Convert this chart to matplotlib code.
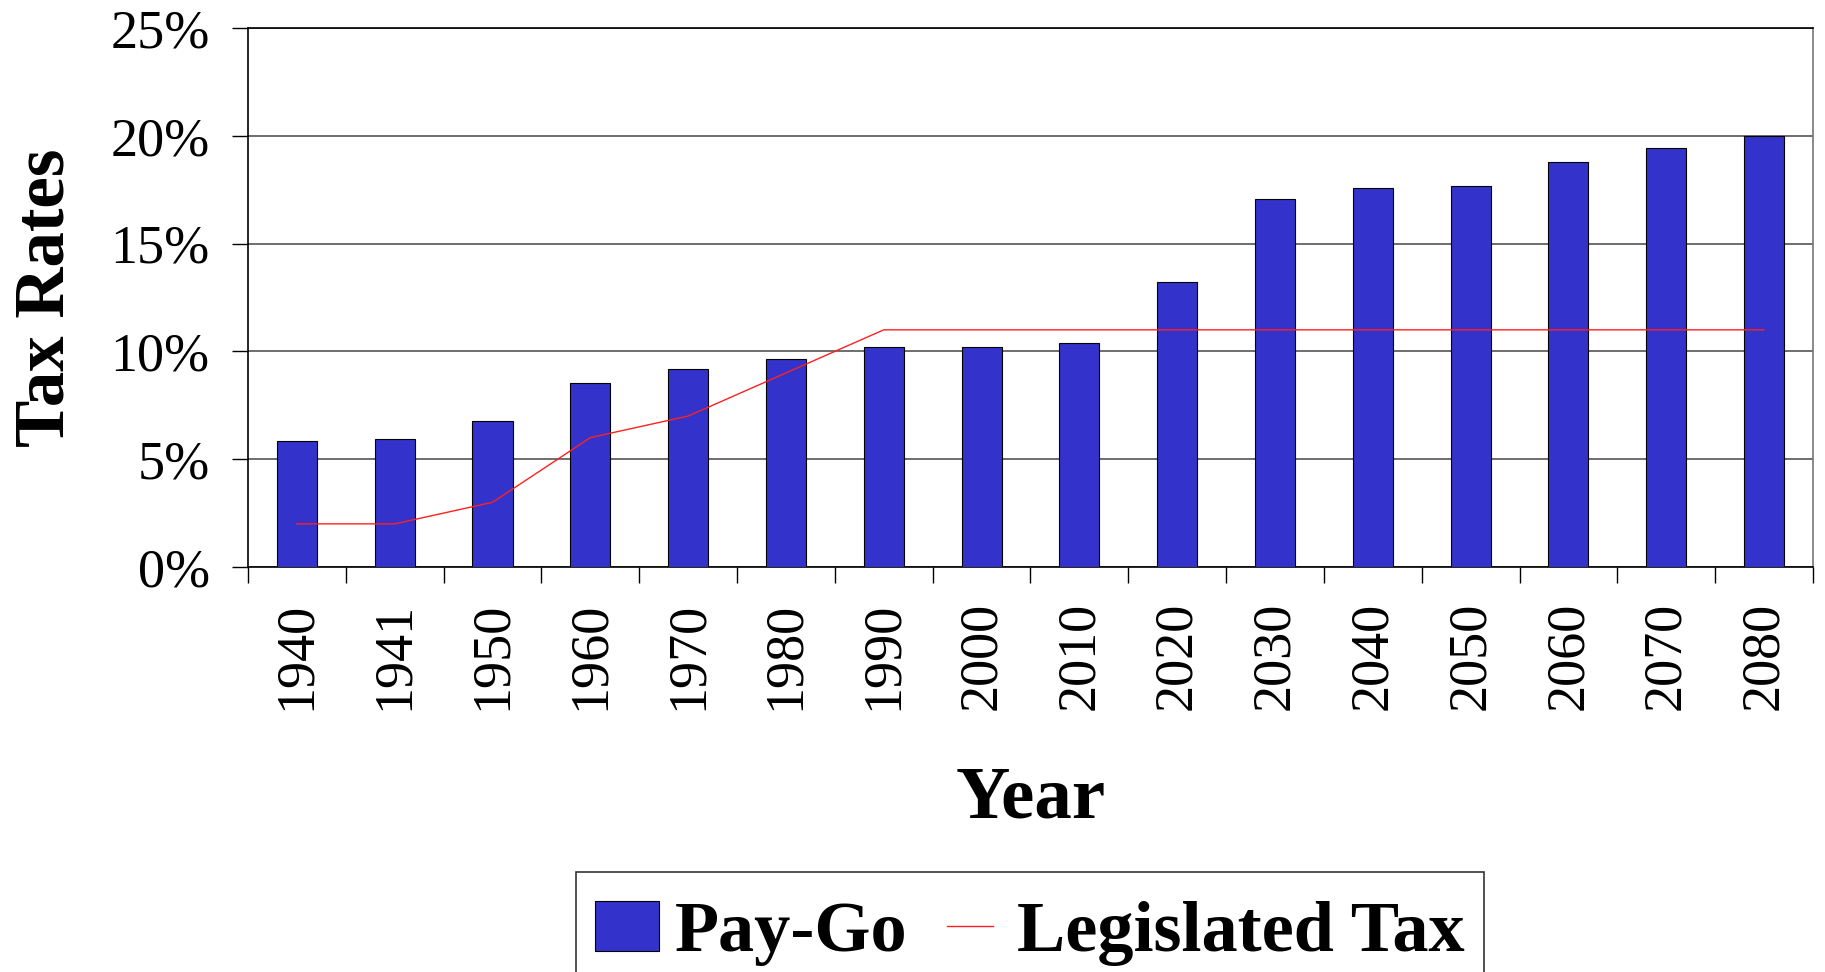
import matplotlib
matplotlib.use("Agg")
import matplotlib.pyplot as plt
from matplotlib.ticker import FixedLocator, FuncFormatter, NullFormatter
from matplotlib.lines import Line2D
from matplotlib.patches import Patch
from matplotlib.legend_handler import HandlerLine2D

# Data (percent of taxable payroll)
years = ["1940", "1941", "1950", "1960", "1970", "1980", "1990", "2000",
         "2010", "2020", "2030", "2040", "2050", "2060", "2070", "2080"]
pay_go = [5.85, 5.94, 6.77, 8.54, 9.17, 9.63, 10.18, 10.18,
          10.37, 13.23, 17.05, 17.57, 17.68, 18.79, 19.43, 20.0]
legislated_tax = [2.0, 2.0, 3.0, 6.0, 7.0, 9.0, 11.0, 11.0,
                  11.0, 11.0, 11.0, 11.0, 11.0, 11.0, 11.0, 11.0]
y_ticks = [0, 5, 10, 15, 20, 25]

BAR_COLOR = "#3333CC"
LINE_COLOR = "#FF2020"
SERIF = ["Liberation Serif", "DejaVu Serif"]
plt.rcParams["font.family"] = SERIF

fig = plt.figure(figsize=(18.25, 9.72), dpi=100)
ax = fig.add_axes([0.1359, 0.4167, 0.8575, 0.5545])

x = list(range(len(years)))
ax.bar(x, pay_go, width=0.41, color=BAR_COLOR, edgecolor="black",
       linewidth=0.8, zorder=3, label="Pay-Go")
ax.plot(x, legislated_tax, color=LINE_COLOR, linewidth=1.0, zorder=4,
        label="Legislated Tax")

ax.set_xlim(-0.5, len(years) - 0.5)
ax.set_ylim(0, 25)

# y axis: percent ticks with horizontal grid
ax.yaxis.set_major_locator(FixedLocator(y_ticks))
ax.yaxis.set_major_formatter(FuncFormatter(lambda v, p: f"{v:.0f}%"))
ax.grid(axis="y", color="#555555", linewidth=1.2, zorder=0)
ax.tick_params(axis="y", direction="out", length=11.5, width=1.0,
               pad=16, labelsize=39, color="black")

# x axis: ticks between categories, labels at centres
ax.set_xticks(x)
ax.set_xticklabels(years, rotation=90, fontsize=39)
ax.xaxis.set_minor_locator(FixedLocator([i - 0.5 for i in range(len(years) + 1)]))
ax.xaxis.set_minor_formatter(NullFormatter())
ax.tick_params(axis="x", which="major", length=0, pad=25)
ax.tick_params(axis="x", which="minor", direction="out", length=11.5,
               width=1.0, color="black")

for side in ("left", "bottom", "top"):
    ax.spines[side].set_color("black")
    ax.spines[side].set_linewidth(1.2)
ax.spines["right"].set_color("#777777")
ax.spines["right"].set_linewidth(1.2)

ax.set_ylabel("Tax Rates", fontsize=51, fontweight="bold", labelpad=23)
ax.set_xlabel("Year", fontsize=54, fontweight="bold", labelpad=40)

handles = [Patch(facecolor=BAR_COLOR, edgecolor="black", linewidth=0.8),
           Line2D([0], [0], color=LINE_COLOR, linewidth=1.0)]
leg = fig.legend(handles, ["Pay-Go", "Legislated Tax"], ncol=2,
                 loc="upper left", bbox_to_anchor=(0.3156, 0.1029),
                 bbox_transform=fig.transFigure,
                 prop={"family": SERIF, "weight": "bold", "size": 52},
                 title=" ", title_fontsize=1, labelspacing=0.12,
                 frameon=True, fancybox=False, edgecolor="black",
                 borderpad=0.27, handlelength=0.88, handleheight=0.68,
                 handletextpad=0.22, columnspacing=0.42, borderaxespad=0,
                 handler_map={handles[1]: HandlerLine2D(numpoints=2,
                                                        marker_pad=0.12)})
leg.get_frame().set_linewidth(1.2)

fig.savefig("out.png", dpi=100)
